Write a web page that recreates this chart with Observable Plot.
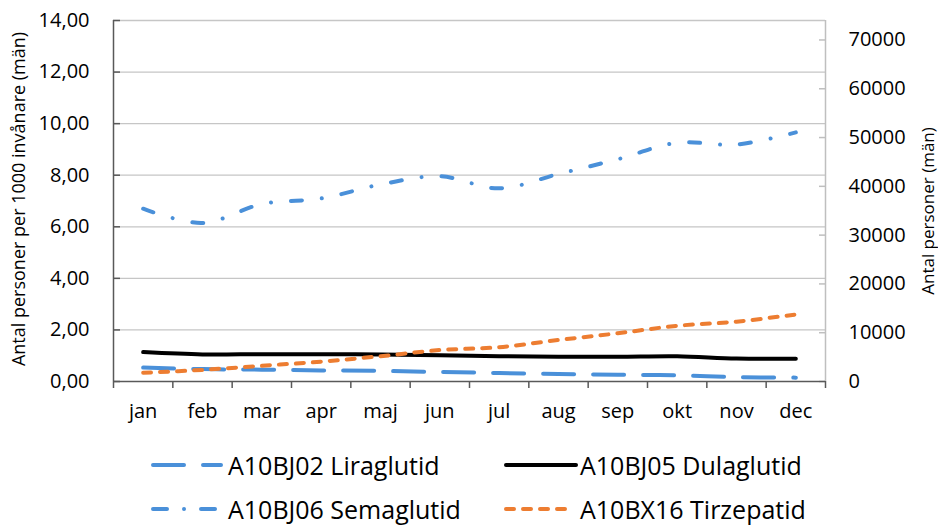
<!DOCTYPE html>
<html><head><meta charset="utf-8">
<script src="https://cdn.jsdelivr.net/npm/d3@7"></script>
<script src="https://cdn.jsdelivr.net/npm/@observablehq/plot@0.6"></script>
<style>
body{margin:0;background:#fff;font-family:"Open Sans",sans-serif;}
#wrap{position:relative;width:938px;height:527px;overflow:hidden;}
#legend{position:absolute;left:0;top:430px;width:938px;height:97px;}
.item{position:absolute;display:flex;align-items:center;font-size:25px;line-height:28px;color:#000;white-space:nowrap;font-family:"Open Sans",sans-serif;}
.item svg{display:block;}
</style>
</head><body><div id="wrap"><div id="chart"></div><div id="legend"></div></div>
<script>
const months = ["jan","feb","mar","apr","maj","jun","jul","aug","sep","okt","nov","dec"];
const liraglutid = [0.54,0.48,0.46,0.43,0.41,0.37,0.33,0.29,0.26,0.24,0.17,0.15];
const dulaglutid = [1.14,1.05,1.06,1.06,1.05,1.02,0.98,0.96,0.96,0.98,0.89,0.88];
const semaglutid = [6.70,6.15,6.88,7.10,7.64,7.96,7.49,8.05,8.62,9.26,9.19,9.66];
const tirzepatid = [0.34,0.45,0.61,0.77,0.98,1.22,1.33,1.61,1.87,2.16,2.32,2.60];
const seriesNames = ["A10BJ02 Liraglutid","A10BJ05 Dulaglutid","A10BJ06 Semaglutid","A10BX16 Tirzepatid"];
const leftTicks = [0,2,4,6,8,10,12,14];
const rightTicks = [0,10000,20000,30000,40000,50000,60000,70000];
const ratio = 5285; // persons per (per-1000) unit

const seriesValues = [liraglutid, dulaglutid, semaglutid, tirzepatid];
const styles = [
  {stroke:"#4a90d9", dash:"31,19"},
  {stroke:"#000000", dash:null},
  {stroke:"#4a90d9", dash:"11,20,0.01,20"},
  {stroke:"#ed7d31", dash:"8,9"}
];

const lineMarks = seriesValues.map((vals, s) => Plot.line(
  vals.map((v, i) => ({x: i + 1, y: v})),
  {x: "x", y: "y", stroke: styles[s].stroke, strokeWidth: 4,
   strokeDasharray: styles[s].dash, strokeLinecap: "round", strokeLinejoin: "round",
   curve: "catmull-rom"}
));

const fmtLeft = d => d.toFixed(2).replace(".", ",");
const chart = Plot.plot({
  width: 938, height: 430,
  marginLeft: 113, marginRight: 113, marginTop: 20, marginBottom: 49,
  style: {fontFamily: "'Open Sans', sans-serif", fontSize: "20px", color: "#000", background: "#fff", overflow: "visible"},
  x: {type: "linear", domain: [0.5, 12.5], axis: null},
  y: {domain: [0, 14], axis: null},
  marks: [
    Plot.ruleY(leftTicks.slice(1), {stroke: "#c6c6c6", strokeWidth: 1.3}),
    Plot.axisY(leftTicks, {anchor: "left", tickSize: -7, tickPadding: 31, stroke: "#595959", strokeWidth: 1.5,
      tickFormat: fmtLeft, fontSize: 20, fill: "#000", label: null}),
    Plot.axisY(rightTicks.map(v => v / ratio), {anchor: "right", tickSize: -7, tickPadding: 30, stroke: "#bfbfbf", strokeWidth: 1.5,
      tickFormat: d => String(Math.round(d * ratio / 1000) * 1000), fontSize: 20, fill: "#000", label: null}),
    Plot.axisX(d3.range(0.5, 13, 1), {tickSize: 7, tickFormat: () => "", stroke: "#595959", strokeWidth: 1.5, label: null}),
    Plot.axisX(d3.range(1, 13), {tickSize: 0, tickPadding: 22, tickFormat: i => months[i - 1], fontSize: 20, fill: "#000", label: null}),
    Plot.ruleX([0.5], {stroke: "#595959", strokeWidth: 1.5}),
    Plot.ruleX([12.5], {stroke: "#bfbfbf", strokeWidth: 1.5}),
    Plot.ruleY([0], {stroke: "#595959", strokeWidth: 1.5}),
    ...lineMarks,
    Plot.text(["Antal personer per 1000 invånare (män)"], {frameAnchor: "left", textAnchor: "middle", dx: -94, dy: -2, rotate: -90, fontSize: 18, fill: "#000"}),
    Plot.text(["Antal personer (män)"], {frameAnchor: "right", textAnchor: "middle", dx: 103, dy: 10, rotate: -90, fontSize: 17, fill: "#000"})
  ]
});
document.getElementById("chart").appendChild(chart);

// legend
const legend = document.getElementById("legend");
const pos = [
  {left: 149, top: 35, x1: 4, x2: 72, w: 79},
  {left: 502, top: 35, x1: 4, x2: 74, w: 78},
  {left: 149, top: 79, x1: 4, x2: 72, w: 79},
  {left: 502, top: 79, x1: 4, x2: 70, w: 78}
];
const legendDash = ["31,19", null, "14,17,0.01,17", "8,9"];
seriesNames.forEach((name, s) => {
  const p = pos[s];
  const div = document.createElement("div");
  div.className = "item";
  div.style.left = p.left + "px";
  div.style.top = (p.top - 14) + "px";
  div.style.height = "28px";
  const ns = "http://www.w3.org/2000/svg";
  const svg = document.createElementNS(ns, "svg");
  svg.setAttribute("width", p.w);
  svg.setAttribute("height", 28);
  const ln = document.createElementNS(ns, "line");
  ln.setAttribute("x1", p.x1); ln.setAttribute("x2", p.x2);
  ln.setAttribute("y1", 14); ln.setAttribute("y2", 14);
  ln.setAttribute("stroke", styles[s].stroke);
  ln.setAttribute("stroke-width", 4);
  ln.setAttribute("stroke-linecap", "round");
  if (legendDash[s]) ln.setAttribute("stroke-dasharray", legendDash[s]);
  svg.appendChild(ln);
  div.appendChild(svg);
  const t = document.createElement("span");
  t.textContent = name;
  div.appendChild(t);
  legend.appendChild(div);
});
</script>
</body></html>
